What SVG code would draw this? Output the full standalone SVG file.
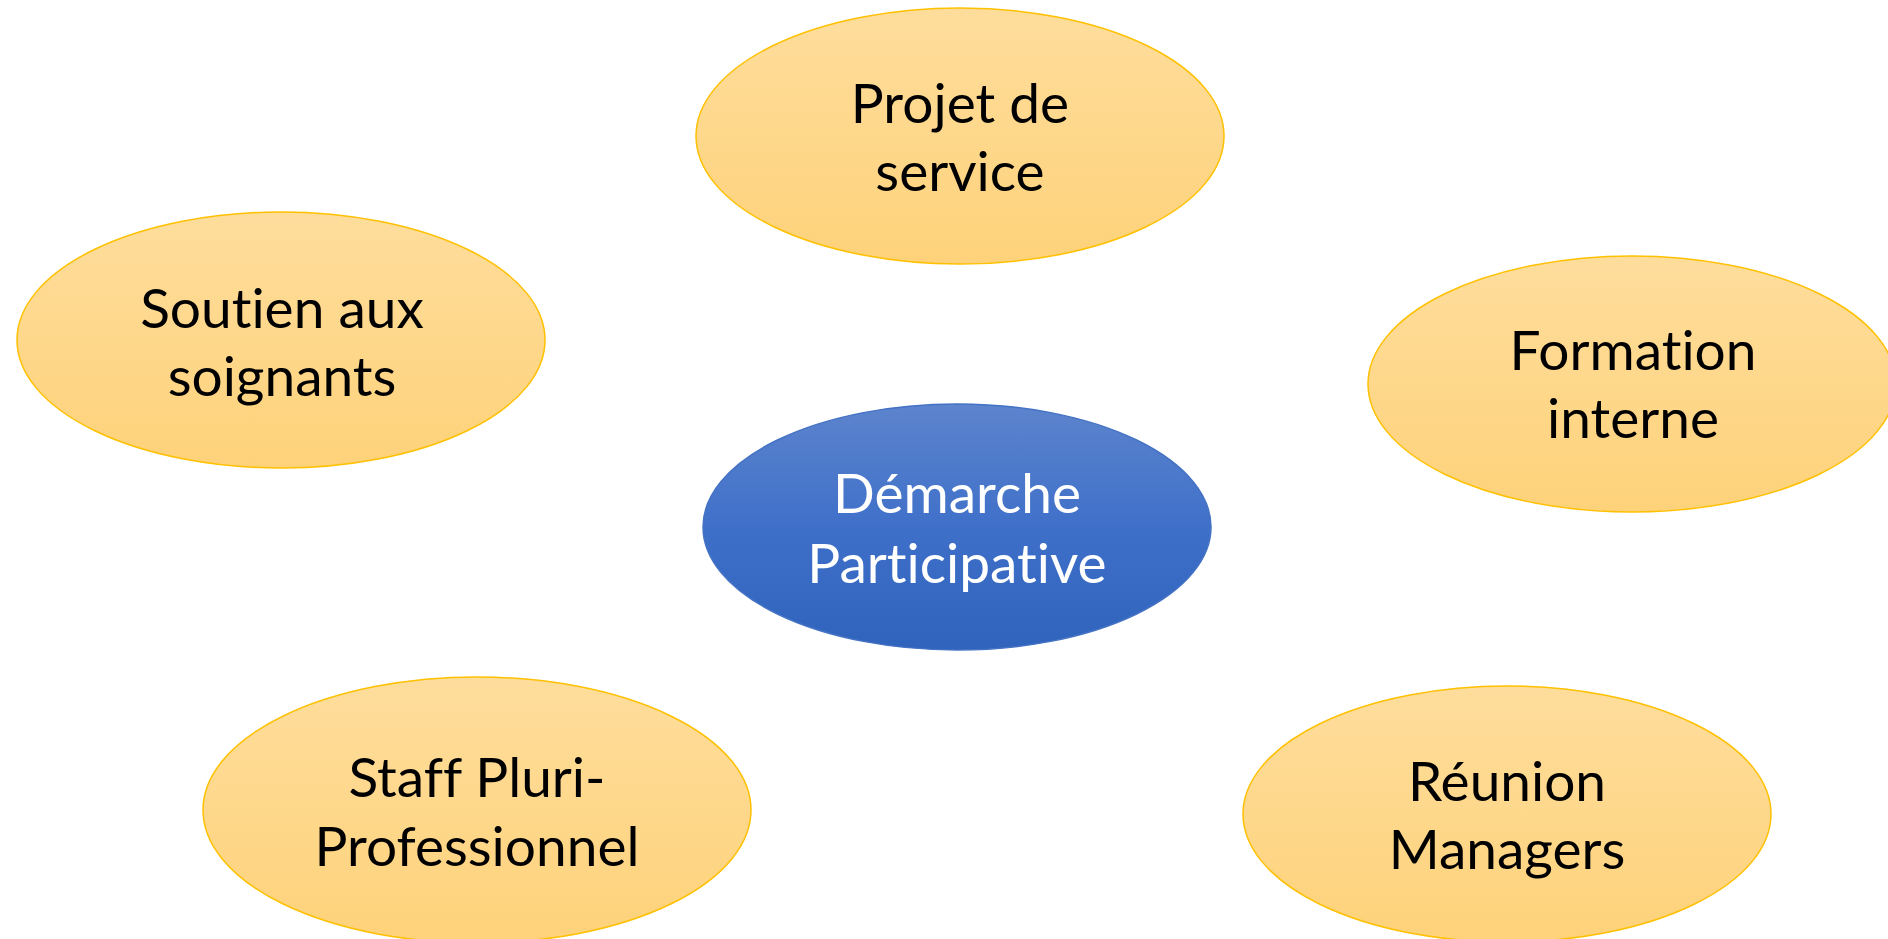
<svg xmlns="http://www.w3.org/2000/svg" width="1888" height="939" viewBox="0 0 1888 939">
  <defs>
    <linearGradient id="gold" x1="0" y1="0" x2="0" y2="1">
      <stop offset="0" stop-color="#FEDD9C"/>
      <stop offset="1" stop-color="#FED27A"/>
    </linearGradient>
    <linearGradient id="blue" x1="0" y1="0" x2="0" y2="1">
      <stop offset="0" stop-color="#5D84CD"/>
      <stop offset="0.5" stop-color="#3F70C9"/>
      <stop offset="1" stop-color="#2F63BC"/>
    </linearGradient>
  </defs>
  <style>
    .leaf { fill: url(#gold); stroke: #FFC000; stroke-width: 1.5; }
    .hub { fill: url(#blue); stroke: #4472C4; stroke-width: 1.5; }
    text { font-family: Lato, "Open Sans", "Liberation Sans", sans-serif; font-size: 55px; text-anchor: middle; font-variant-ligatures: none; font-feature-settings: "liga" 0, "clig" 0, "dlig" 0; }
    .dark { fill: #000000; }
    .light { fill: #FFFFFF; }
  </style>
  <rect width="1888" height="939" fill="#FFFFFF"/>

  <g id="connectors"/>

  <g id="node-projet">
    <ellipse class="leaf" cx="960" cy="136" rx="264" ry="128"/>
    <text class="dark" x="960" y="123">Projet de</text>
    <text class="dark" x="960" y="191">service</text>
  </g>

  <g id="node-soutien">
    <ellipse class="leaf" cx="281" cy="340" rx="264" ry="128"/>
    <text class="dark" x="282" y="328">Soutien aux</text>
    <text class="dark" x="282" y="396">soignants</text>
  </g>

  <g id="node-formation">
    <ellipse class="leaf" cx="1632" cy="384" rx="264" ry="128"/>
    <text class="dark" x="1633" y="370">Formation</text>
    <text class="dark" x="1633" y="438">interne</text>
  </g>

  <g id="node-demarche">
    <ellipse class="hub" cx="957" cy="527" rx="254" ry="123"/>
    <text class="light" x="957" y="513">Démarche</text>
    <text class="light" x="957" y="583">Participative</text>
  </g>

  <g id="node-staff">
    <ellipse class="leaf" cx="477" cy="810" rx="274" ry="133"/>
    <text class="dark" x="477" y="797">Staff Pluri-</text>
    <text class="dark" x="477" y="866">Professionnel</text>
  </g>

  <g id="node-reunion">
    <ellipse class="leaf" cx="1507" cy="814" rx="264" ry="128"/>
    <text class="dark" x="1507" y="801">Réunion</text>
    <text class="dark" x="1507" y="869">Managers</text>
  </g>
</svg>
